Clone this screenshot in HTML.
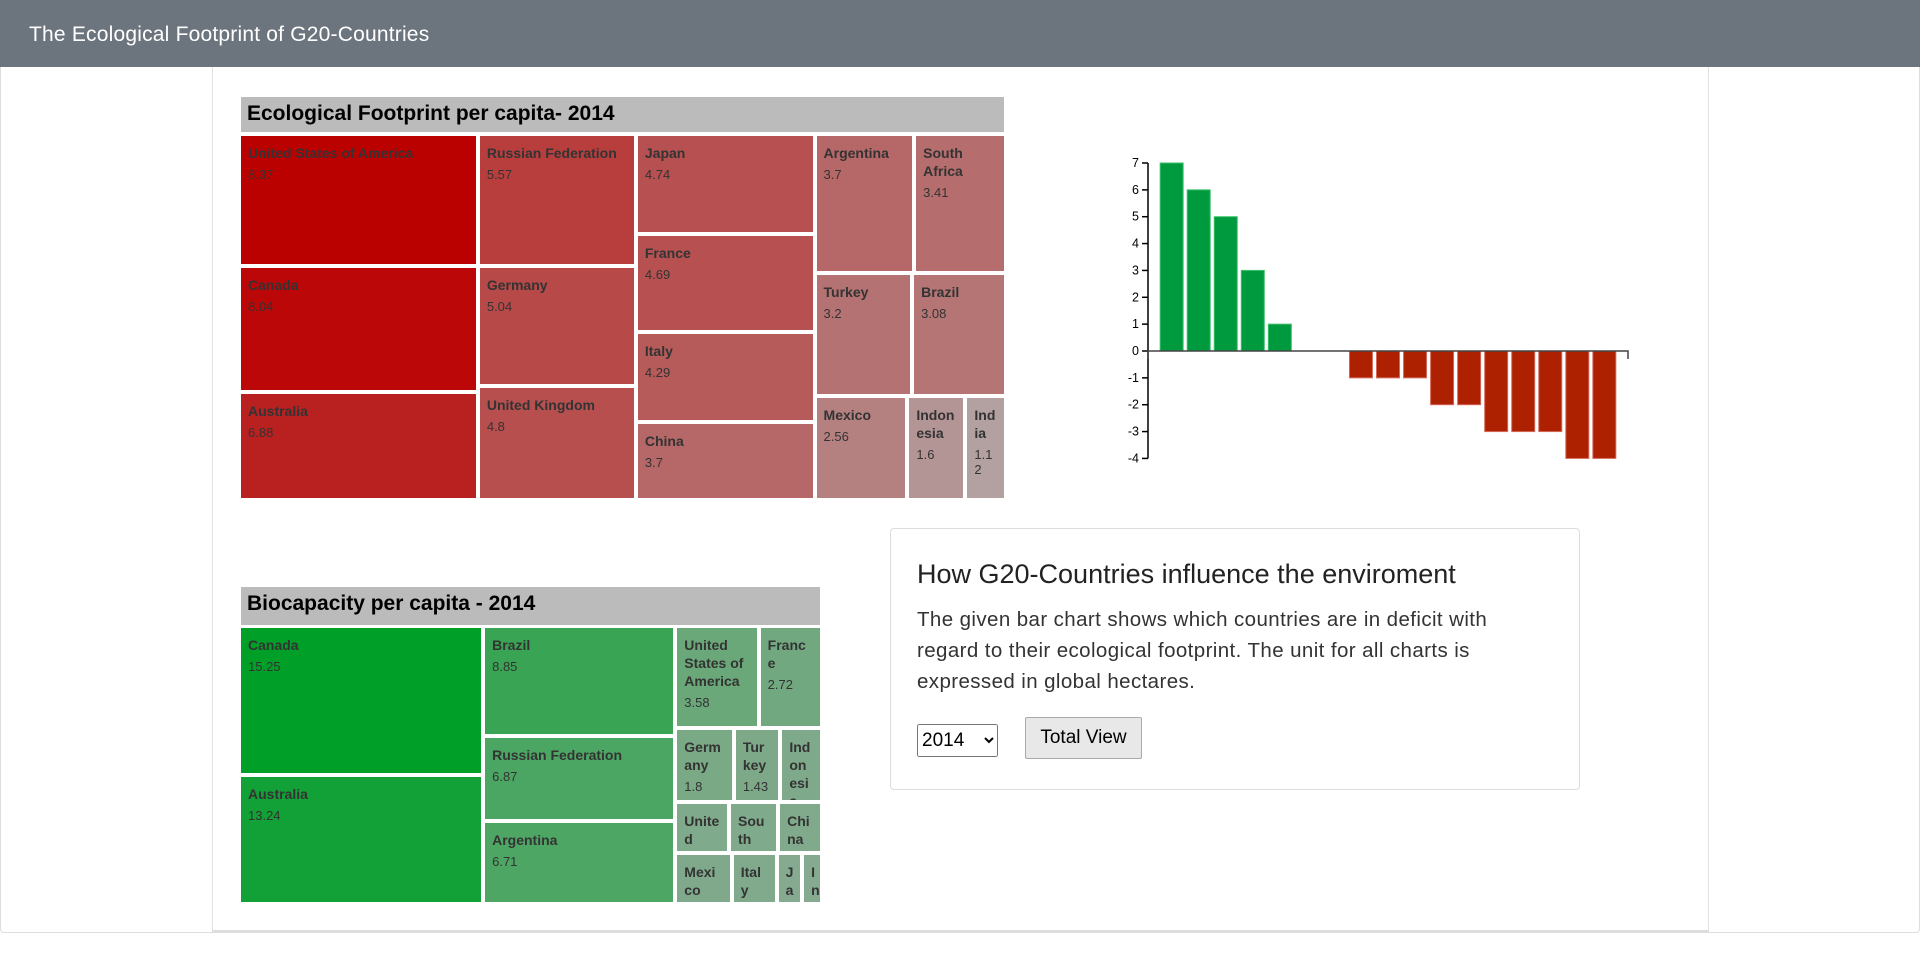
<!DOCTYPE html>
<html style="overflow:hidden"><head><meta charset="utf-8"><style>
*{box-sizing:border-box}
body{margin:0;width:1920px;height:958px;background:#fff;font-family:"Liberation Sans",sans-serif;position:relative;overflow:hidden}
#frame{position:absolute;left:0;top:0;width:1920px;height:933px;border:1px solid #ddd;border-radius:0 0 4px 4px}
#hdr{position:absolute;left:0;top:0;width:1920px;height:67px;background:#6c757d;color:#fff;font-size:21px;letter-spacing:0.2px;padding:23px 0 0 29px}
#card{position:absolute;left:212px;top:67px;width:1497px;height:865px;border:1px solid #e2e2e2;border-top:none;border-bottom:2px solid #ddd}
.tt{position:absolute;background:#bbb;font-weight:bold;font-size:21px;color:#000;padding:5px 6px}
.tile{position:absolute;overflow:hidden;padding:8px 7px;color:#333;overflow-wrap:anywhere}
.tile b{display:block;font-size:14px;line-height:18px}
.tile span{display:block;font-size:13px;margin-top:5px}
#info{position:absolute;left:890px;top:528px;width:690px;height:262px;border:1px solid #ddd;border-radius:4px;padding:0 26px}
#info h5{margin:30px 0 14px;font-size:27px;font-weight:normal;color:#222}
#info p{margin:0;font-size:20.5px;letter-spacing:0.4px;line-height:31px;color:#333;width:600px}
</style></head><body>
<div id="frame"></div>
<div id="hdr">The Ecological Footprint of G20-Countries</div>
<div id="card"></div>
<div class="tt" style="left:241px;top:97px;width:763px;height:35px">Ecological Footprint per capita- 2014</div>
<div id="fp"></div>
<div class="tt" style="left:241px;top:587px;width:579px;height:38px">Biocapacity per capita - 2014</div>
<div id="bc"></div>
<svg id="bar" width="1900" height="900" style="position:absolute;left:0;top:0;pointer-events:none"></svg>
<div id="info">
<h5>How G20-Countries influence the enviroment</h5>
<p>The given bar chart shows which countries are in deficit with regard to their ecological footprint. The unit for all charts is expressed in global hectares.</p>
<div style="margin-top:20px;display:flex;align-items:center">
<select style="font-size:19px;width:81px;height:33px;font-family:'Liberation Sans',sans-serif;margin-top:4px"><option>2014</option></select>
<button style="margin-left:27px;font-size:19px;height:42px;width:117px;font-family:'Liberation Sans',sans-serif;background:#e8e8e8;border:1px solid #aaa;border-radius:2px">Total View</button>
</div></div>
<script>
// Footprint treemap data
const fpNames=["United States of America","Canada","Australia","Russian Federation","Germany","United Kingdom","Japan","France","Italy","China","Argentina","South Africa","Turkey","Brazil","Mexico","Indonesia","India"];
const fpValues=[8.37,8.04,6.88,5.57,5.04,4.8,4.74,4.69,4.29,3.7,3.7,3.41,3.2,3.08,2.56,1.6,1.12];
const fpGroups=[[[0],[1],[2]],[[3],[4],[5]],[[6],[7],[8],[9]],[[10,11],[12,13],[14,15,16]]];
// Biocapacity treemap data
const bcNames=["Canada","Australia","Brazil","Russian Federation","Argentina","United States of America","France","Germany","Turkey","Indonesia","United Kingdom","South Africa","China","Mexico","Italy","Japan","India"];
const bcValues=[15.25,13.24,8.85,6.87,6.71,3.58,2.72,1.8,1.43,1.28,1.15,1.05,0.94,1.22,0.97,0.55,0.43];
const bcGroups=[[[0],[1]],[[2],[3],[4]],[[5,6],[7,8,9],[10,11,12],[13,14,15,16]]];
// Bar chart data
const barCats=["C1","C2","C3","C4","C5","C6","C7","C8","C9","C10","C11","C12","C13","C14","C15","C16","C17"];
const barValues=[7,6,5,3,1,0,0,-1,-1,-1,-2,-2,-3,-3,-3,-4,-4];
const yTicks=[7,6,5,4,3,2,1,0,-1,-2,-3,-4];

function mix(a,b,t){return 'rgb('+a.map((v,i)=>Math.round(v+(b[i]-v)*t)).join(',')+')';}
function treemap(host,names,vals,groups,box,lo,hi){
  const sum=a=>a.reduce((s,i)=>s+vals[i],0);
  const mn=Math.min(...vals),mx=Math.max(...vals);
  const total=groups.reduce((s,c)=>s+c.reduce((t,r)=>t+sum(r),0),0);
  let x=box.x;const G=4;
  groups.forEach(col=>{
    const cv=col.reduce((t,r)=>t+sum(r),0);
    const w=box.w*cv/total;let y=box.y;
    col.forEach(row=>{
      const rv=sum(row);const h=box.h*rv/cv;let xx=x;
      row.forEach(i=>{
        const ww=w*vals[i]/rv;
        const d=document.createElement('div');
        d.className='tile';
        
        
        d.style.left=xx+'px';d.style.top=y+'px';
        d.style.width=(ww-G)+'px';d.style.height=(h-G)+'px';
        d.style.background=mix(lo,hi,(vals[i]-mn)/(mx-mn));
        d.innerHTML='<b>'+names[i]+'</b><span>'+vals[i]+'</span>';
        host.appendChild(d);xx+=ww;
      });
      y+=h;
    });
    x+=w;
  });
}
treemap(document.getElementById('fp'),fpNames,fpValues,fpGroups,{x:241,y:136,w:767,h:366},[179,160,160],[187,0,0]);
treemap(document.getElementById('bc'),bcNames,bcValues,bcGroups,{x:241,y:628,w:583,h:278},[134,170,144],[0,160,40]);

const svg=document.getElementById('bar');const NS='http://www.w3.org/2000/svg';
const X0=1148,X1=1628,Y7=163,Y0=351;
const per=(Y0-Y7)/7;
const y=v=>Y0-v*per;
const n=barCats.length,step=(X1-X0)/(n-0.15+0.9),bw=step*0.85;
const xb=i=>X0+step*0.45+i*step;
function el(t,a){const e=document.createElementNS(NS,t);for(const k in a)e.setAttribute(k,a[k]);svg.appendChild(e);return e;}
barValues.forEach((v,i)=>{
  if(v===0)return;
  const r=el('rect',{x:xb(i),y:Math.min(y(v),y(0)),width:bw,height:Math.abs(y(v)-y(0)),fill:v>0?'#009a3e':'#ad2100',stroke:v>0?'#3cc06a':'#d46a5a','stroke-width':1});
  
  
});
const ya=el('line',{x1:X0,x2:X0,y1:y(7),y2:y(-4),stroke:'#000','stroke-width':1.5});


yTicks.forEach(t=>{
  el('line',{x1:X0-6,x2:X0,y1:y(t),y2:y(t),stroke:'#000','stroke-width':1.5});
  const tx=el('text',{x:X0-9,y:y(t)+4,'text-anchor':'end','font-size':12.5,'font-family':'Liberation Sans, sans-serif',fill:'#000'});
  tx.textContent=t;
  
  
});
const xa=el('path',{d:`M${X0},${y(0)+8}V${y(0)}H${X1}V${y(0)+8}`,fill:'none',stroke:'#444','stroke-width':1.5});


</script>
</body></html>
